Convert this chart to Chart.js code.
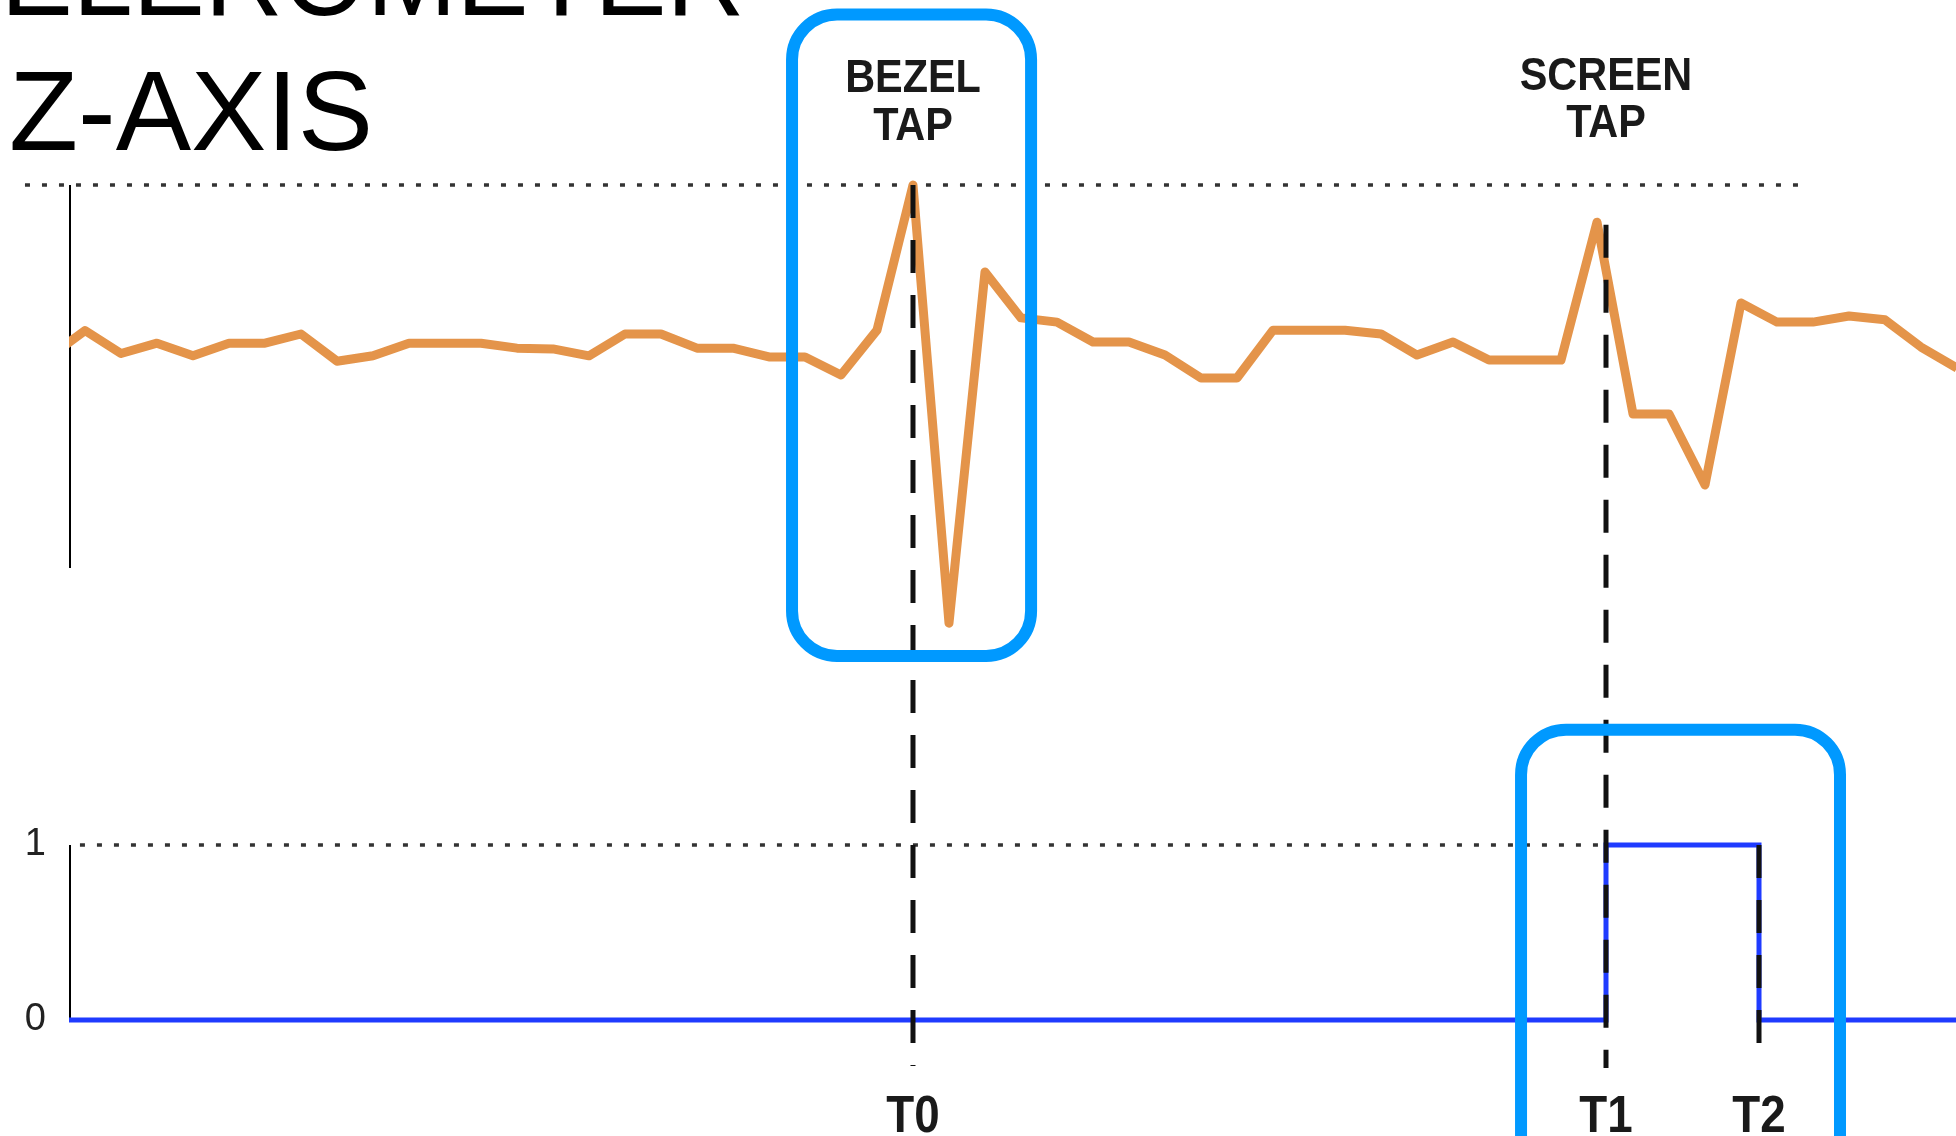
<!DOCTYPE html>
<html>
<head>
<meta charset="utf-8">
<title>Accelerometer Z-axis vs touch</title>
<script src="https://cdn.jsdelivr.net/npm/chart.js@4.4.1/dist/chart.umd.min.js"></script>
<style>
  html, body { margin: 0; padding: 0; background: #fff; }
  #wrap { width: 1956px; height: 1136px; overflow: hidden; }
</style>
</head>
<body>
<div id="wrap"><canvas id="chartTaps" width="1956" height="1136"></canvas></div>
<script>
// accelerometer z-axis, one reading per sample
const accelSamples = [-1, 0, 1, 2, 3, 4, 5, 6, 7, 8, 9, 10, 11, 12, 13, 14, 15, 16, 17,
  18, 19, 20, 21, 22, 23, 24, 25, 26, 27, 28, 29, 30, 31, 32, 33, 34, 35, 36, 37,
  38, 39, 40, 41, 42, 43, 44, 45, 46, 47, 48, 49, 50, 51, 52];
const accelZ = [55, 62, 56, 58.7, 55.4, 58.7, 58.7, 61.1, 54, 55.4, 58.7, 58.7, 58.7,
  57.4, 57.2, 55.4, 61.1, 61.1, 57.4, 57.4, 55.1, 55.1, 50.4, 62.1, 100, -14.4, 77.3,
  65.3, 64.2, 59, 59, 55.6, 49.6, 49.6, 62.1, 62.1, 62.1, 61.1, 55.6, 59, 54.3, 54.3,
  54.3, 90.3, 40.2, 40.2, 21.7, 69.2, 64.2, 64.2, 65.8, 64.8, 57.7, 52.2];
const accelMax = 100;

// touch screen state (0 = up, 1 = down)
const touchSamples = [-1, 42.25, 46.5, 53];
const touchState = [0, 1, 0, 0];
const touchTicks = [0, 1];

// event markers
const markerNames = ['T0', 'T1', 'T2'];
const markerSamples = [23, 42.25, 46.5];
const eventNames = [['BEZEL', 'TAP'], ['SCREEN', 'TAP']];
const eventSamples = [23, 42.25];

const orange = '#e4944a';
const boxBlue = '#0099ff';

function condensedText(ctx, text, x, y, sx) {
  ctx.save();
  ctx.translate(x, y);
  ctx.scale(sx, 1);
  ctx.fillText(text, 0, 0);
  ctx.restore();
}

const overlay = {
  id: 'overlay',
  beforeDatasetsDraw(chart) {
    const ctx = chart.ctx;
    const x = chart.scales.x, ya = chart.scales.yAcc, yt = chart.scales.yTouch;
    ctx.save();
    ctx.strokeStyle = '#333';
    ctx.lineWidth = 3.5;
    ctx.setLineDash([5, 12]);
    // dotted max line of the accelerometer
    ctx.beginPath();
    ctx.moveTo(x.getPixelForValue(-1.667), ya.getPixelForValue(accelMax));
    ctx.lineTo(x.getPixelForValue(47.64), ya.getPixelForValue(accelMax));
    ctx.stroke();
    // dotted "1" line of the touch state
    ctx.beginPath();
    ctx.moveTo(x.getPixelForValue(-0.14), yt.getPixelForValue(1));
    ctx.lineTo(x.getPixelForValue(markerSamples[1]), yt.getPixelForValue(1));
    ctx.stroke();
    ctx.setLineDash([]);

    // axis lines
    const ax = chart.chartArea.left + 1;
    ctx.strokeStyle = '#000';
    ctx.lineWidth = 2;
    ctx.beginPath();
    ctx.moveTo(ax, ya.getPixelForValue(accelMax));
    ctx.lineTo(ax, ya.getPixelForValue(0));
    ctx.moveTo(ax, yt.getPixelForValue(1));
    ctx.lineTo(ax, yt.getPixelForValue(0));
    ctx.stroke();
    ctx.restore();
  },
  afterDraw(chart) {
    const ctx = chart.ctx;
    const x = chart.scales.x, ya = chart.scales.yAcc, yt = chart.scales.yTouch;
    ctx.save();

    // dashed marker lines
    const tops = [ya.getPixelForValue(accelMax), ya.getPixelForValue(89.6), yt.getPixelForValue(1)];
    const bottoms = [yt.getPixelForValue(-0.263), yt.getPixelForValue(-0.274), yt.getPixelForValue(-0.16)];
    ctx.strokeStyle = '#111';
    ctx.lineWidth = 5;
    ctx.setLineDash([33, 22]);
    markerSamples.forEach((s, i) => {
      const px = x.getPixelForValue(s);
      ctx.beginPath();
      ctx.moveTo(px, tops[i]);
      ctx.lineTo(px, bottoms[i]);
      ctx.stroke();
    });
    ctx.setLineDash([]);

    // highlight boxes
    ctx.strokeStyle = boxBlue;
    ctx.lineWidth = 12;
    const b1 = [x.getPixelForValue(19.64), ya.getPixelForValue(144.5),
                x.getPixelForValue(26.28), ya.getPixelForValue(-22.98)];
    const b2 = [x.getPixelForValue(39.89), yt.getPixelForValue(1.659),
                x.getPixelForValue(48.75), yt.getPixelForValue(-1)];
    [b1, b2].forEach(b => {
      ctx.beginPath();
      ctx.roundRect(b[0], b[1], b[2] - b[0], b[3] - b[1], 45);
      ctx.stroke();
    });

    // titles
    ctx.fillStyle = '#000';
    ctx.textAlign = 'left';
    ctx.textBaseline = 'alphabetic';
    ctx.font = '113px "Liberation Sans", Arial, sans-serif';
    condensedText(ctx, 'ACCELEROMETER', -227, 15, 0.955);
    ctx.fillText('Z-AXIS', 9, 150);

    // event labels
    ctx.fillStyle = '#1a1a1a';
    ctx.textAlign = 'center';
    ctx.font = 'bold 46px "Liberation Sans", Arial, sans-serif';
    const eventBase = [[92, 140], [90, 137]];
    eventSamples.forEach((s, i) => {
      const px = x.getPixelForValue(s);
      condensedText(ctx, eventNames[i][0], px, eventBase[i][0], 0.9);
      condensedText(ctx, eventNames[i][1], px, eventBase[i][1], 0.9);
    });

    // marker labels
    ctx.font = 'bold 52px "Liberation Sans", Arial, sans-serif';
    markerSamples.forEach((s, i) => {
      condensedText(ctx, markerNames[i], x.getPixelForValue(s), 1132, 0.88);
    });
    ctx.restore();
  }
};

new Chart(document.getElementById('chartTaps'), {
  type: 'line',
  data: {
    datasets: [
      {
        label: 'Accelerometer Z',
        data: accelSamples.map((s, i) => ({ x: s, y: accelZ[i] })),
        borderColor: orange,
        borderWidth: 9,
        borderJoinStyle: 'round',
        pointRadius: 0,
        tension: 0,
        clip: 0,
        yAxisID: 'yAcc'
      },
      {
        label: 'Touch',
        data: touchSamples.map((s, i) => ({ x: s, y: touchState[i] })),
        borderColor: '#1f3bff',
        borderWidth: 5,
        pointRadius: 0,
        stepped: 'before',
        clip: 0,
        yAxisID: 'yTouch'
      }
    ]
  },
  options: {
    responsive: false,
    animation: false,
    devicePixelRatio: 1,
    layout: { padding: { top: 20, left: 0, right: 0, bottom: 0 } },
    plugins: { legend: { display: false }, tooltip: { enabled: false } },
    scales: {
      x: { type: 'linear', min: -0.444, max: 51.972, display: false },
      yAcc: { type: 'linear', min: -148.3, max: 143.08, display: false },
      yTouch: {
        type: 'linear',
        position: 'left',
        min: -0.663,
        max: 5.714,
        afterBuildTicks: axis => { axis.ticks = touchTicks.map(v => ({ value: v })); },
        afterFit: axis => {
          axis.width = 69;
          axis.paddingTop = 0;
          axis.paddingBottom = 0;
        },
        grid: { display: false, drawTicks: false },
        border: { display: false },
        ticks: {
          padding: 23,
          color: '#222',
          font: { size: 38, family: '"Liberation Sans", Arial, sans-serif' },
          callback: v => String(v)
        }
      }
    }
  },
  plugins: [overlay]
});
</script>
</body>
</html>
